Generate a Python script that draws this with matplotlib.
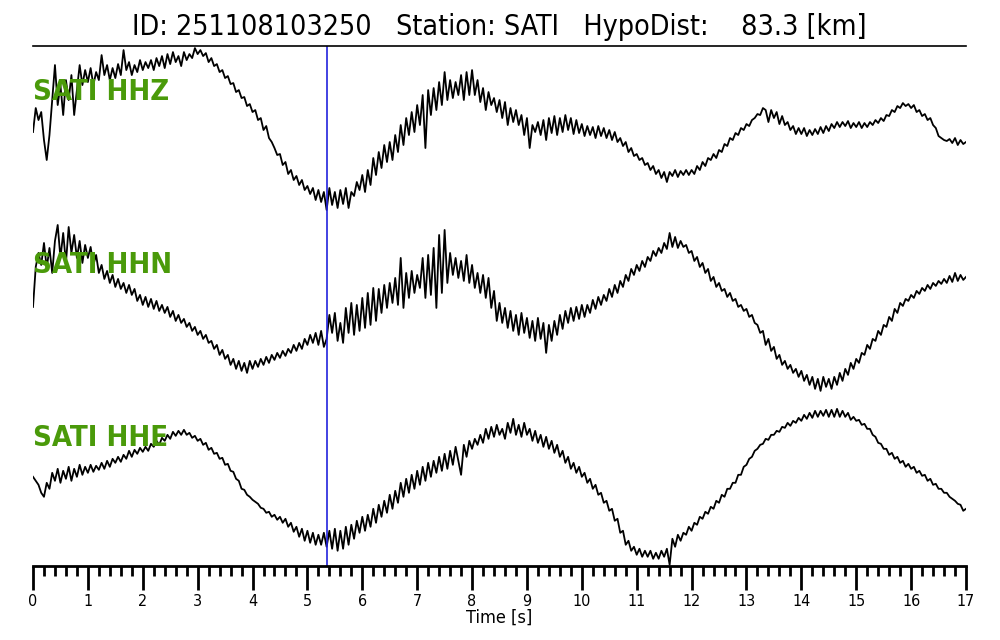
import numpy as np
import matplotlib
matplotlib.use("Agg")
import matplotlib.pyplot as plt

# ---------------- data ----------------
title_text = "ID: 251108103250   Station: SATI   HypoDist:    83.3 [km]"
channels = ["SATI HHZ", "SATI HHN", "SATI HHE"]
pick_time = 5.355          # s, blue marker
sample_step = 0.05         # s
t_end = 17.0
tick_labels = [str(i) for i in range(18)]

hhz = [
    -2, 22, 10, 18, -10, -30, -5, 30, 65, 25, 45, 15, 50, 30, 55, 15, 40, 65, 45, 60,
    48, 62, 45, 58, 50, 75, 55, 65, 50, 62, 52, 66, 55, 80, 60, 68, 55, 65, 58, 70,
    60, 68, 62, 70, 60, 72, 64, 74, 62, 76, 66, 78, 68, 74, 64, 78, 70, 76, 72, 82,
    76, 80, 74, 77, 68, 72, 64, 66, 58, 60, 52, 54, 46, 47, 38, 40, 32, 33, 24, 26,
    18, 20, 10, 12, 0, 4, -8, -12, -18, -25, -24, -35, -32, -44, -40, -50, -46, -55, -50, -60,
    -56, -64, -58, -70, -60, -72, -62, -80, -58, -75, -62, -78, -60, -74, -58, -78, -62, -66, -52, -60,
    -45, -62, -40, -55, -28, -45, -22, -38, -15, -32, -12, -30, -5, -22, 5, -15, 12, -5, 18, -2,
    25, 5, 35, -18, 40, 15, 42, 20, 48, 25, 58, 30, 50, 32, 48, 35, 55, 30, 58, 35,
    60, 35, 50, 28, 42, 20, 38, 25, 32, 18, 30, 12, 28, 5, 22, 8, 20, 5, 15, -5,
    12, -18, 5, -2, 8, -5, 10, -10, 12, -3, 14, -5, 12, -2, 15, 0, 12, -4, 10, -3,
    6, -6, 4, -5, 3, -8, 4, -6, 2, -8, 0, -10, -2, -12, -8, -16, -12, -22, -18, -26,
    -24, -30, -28, -35, -33, -40, -36, -44, -40, -48, -42, -52, -42, -46, -40, -47, -41, -45, -40, -45,
    -40, -44, -36, -40, -32, -36, -28, -30, -24, -28, -20, -22, -14, -16, -8, -10, -3, -5, 2, 0,
    6, 4, 10, 12, 16, 15, 22, 20, 8, 20, 12, 18, 6, 14, 5, 8, 0, 4, -4, 2,
    -4, 2, -6, 0, -5, 1, -4, 3, -3, 4, -1, 6, 2, 8, 3, 8, 4, 9, 2, 7,
    3, 8, 2, 7, 3, 8, 5, 10, 7, 12, 9, 15, 14, 20, 18, 24, 22, 27, 24, 26,
    22, 25, 18, 20, 14, 16, 10, 12, 5, 2, -6, -8, -10, -11, -9, -13, -8, -15, -10, -14,
    -12,
]

hhn = [
    -4, 36, 50, 38, 60, 35, 55, 30, 62, 78, 45, 70, 40, 76, 50, 68, 45, 62, 40, 58,
    45, 56, 38, 48, 30, 38, 24, 32, 20, 28, 16, 24, 14, 20, 10, 18, 8, 14, 2, 8,
    -2, 6, -4, 4, -6, 2, -8, -2, -10, -4, -14, -8, -18, -12, -20, -16, -24, -20, -28, -24,
    -32, -28, -36, -32, -40, -38, -46, -42, -52, -47, -56, -52, -62, -56, -66, -58, -68, -60, -70, -58,
    -66, -58, -64, -56, -62, -54, -60, -52, -57, -50, -55, -48, -53, -46, -50, -42, -48, -40, -46, -36,
    -42, -32, -40, -30, -42, -28, -44, -36, -12, -30, -10, -38, -20, -40, -5, -30, 0, -32, -2, -28,
    5, -25, 10, -22, 15, -18, 14, -10, 18, -5, 20, 0, 25, -2, 45, -5, 30, 5, 32, 10,
    28, 15, 45, 5, 48, 8, 55, -5, 68, 10, 73, 20, 50, 28, 45, 25, 42, 22, 48, 20,
    38, 15, 30, 10, 28, 5, 25, -5, 12, -18, 0, -20, -5, -25, -8, -28, -12, -32, -10, -30,
    -15, -35, -18, -38, -15, -36, -20, -50, -22, -38, -18, -32, -12, -26, -8, -20, -5, -18, -4, -16,
    -2, -14, -2, -10, 3, -6, 6, -2, 8, 2, 14, 6, 18, 10, 22, 16, 28, 22, 34, 28,
    38, 32, 42, 36, 46, 42, 52, 47, 55, 50, 60, 54, 70, 56, 66, 55, 62, 56, 58, 50,
    52, 42, 46, 36, 40, 30, 34, 22, 26, 16, 20, 12, 14, 6, 10, 2, 4, -4, -2, -8,
    -6, -14, -12, -20, -22, -30, -28, -42, -36, -48, -44, -56, -52, -62, -58, -66, -62, -70, -66, -74,
    -68, -78, -72, -82, -74, -86, -76, -88, -74, -84, -76, -86, -74, -82, -70, -78, -66, -72, -60, -66,
    -56, -60, -50, -52, -42, -46, -36, -38, -28, -32, -22, -24, -14, -18, -6, -10, 0, -3, 4, 2,
    8, 5, 12, 9, 15, 12, 18, 14, 20, 17, 22, 19, 24, 20, 27, 21, 30, 22, 28, 23,
    26,
]

hhe = [
    10, 6, 2, -6, -10, 4, -2, 14, 6, 18, 4, 16, 8, 20, 6, 18, 10, 22, 12, 20,
    14, 22, 15, 21, 17, 24, 18, 26, 20, 28, 24, 30, 25, 32, 28, 36, 30, 37, 33, 39,
    35, 40, 36, 43, 40, 46, 42, 49, 46, 52, 48, 55, 51, 56, 52, 57, 52, 54, 49, 51,
    46, 48, 42, 44, 37, 39, 33, 34, 28, 29, 22, 23, 16, 15, 8, 6, -2, -3, -8, -10,
    -13, -15, -17, -21, -22, -26, -25, -30, -28, -33, -30, -36, -32, -40, -36, -45, -40, -50, -42, -54,
    -44, -56, -46, -58, -48, -58, -46, -60, -44, -62, -42, -64, -44, -62, -40, -58, -38, -52, -34, -46,
    -30, -44, -28, -40, -22, -36, -18, -30, -14, -26, -8, -22, -4, -16, 4, -10, 8, -6, 12, -2,
    16, 2, 20, 6, 24, 10, 26, 14, 30, 16, 33, 18, 36, 22, 40, 26, 12, 42, 30, 46,
    38, 48, 42, 52, 44, 58, 48, 60, 50, 62, 52, 58, 48, 64, 54, 68, 52, 62, 50, 64,
    52, 58, 46, 56, 44, 52, 40, 50, 38, 46, 34, 42, 30, 36, 24, 30, 18, 24, 14, 20,
    10, 14, 4, 8, -2, 2, -8, -6, -16, -14, -24, -22, -34, -32, -46, -44, -58, -54, -64, -60,
    -68, -62, -70, -64, -70, -64, -72, -66, -72, -64, -70, -62, -78, -52, -60, -48, -54, -46, -48, -40,
    -44, -36, -38, -30, -32, -25, -27, -20, -22, -14, -16, -8, -10, -2, -2, 4, 4, 12, 12, 20,
    22, 28, 30, 36, 38, 42, 43, 48, 47, 52, 52, 56, 55, 60, 59, 64, 61, 66, 64, 69,
    66, 72, 68, 74, 69, 76, 70, 76, 71, 77, 70, 77, 70, 78, 70, 76, 70, 74, 67, 70,
    66, 67, 62, 63, 58, 58, 52, 50, 44, 43, 38, 38, 32, 34, 28, 30, 24, 26, 20, 23,
    18, 20, 14, 16, 11, 12, 6, 8, 2, 3, -2, -2, -6, -6, -10, -12, -14, -17, -18, -24,
    -22,
]

traces = [hhz, hhn, hhe]

# ---------------- layout / style ----------------
trace_offsets = [0, -173, -357]
label_y = [38, -135, -308]
label_color = "#4a9a0a"

fig = plt.figure(figsize=(10, 6.4), dpi=100)
ax = fig.add_axes([0.033, 0.116, 0.933, 0.812])

times = np.arange(len(hhz)) * sample_step
for vals, off in zip(traces, trace_offsets):
    ax.plot(times, np.asarray(vals, dtype=float) + off, color="black", lw=1.3)

ax.axvline(pick_time, color="#2222dd", lw=1.2)

for name, ly in zip(channels, label_y):
    ax.text(0.0, ly, name, color=label_color, fontsize=21, fontweight="bold",
            fontstretch="condensed", va="center", ha="left",
            family=["DejaVu Sans"])

ax.set_xlim(0, t_end)
ax.set_ylim(-436, 84)
ax.set_yticks([])
ax.spines["left"].set_visible(False)
ax.spines["right"].set_visible(False)
ax.spines["top"].set_linewidth(1.2)
ax.spines["bottom"].set_linewidth(2.0)

ax.set_xticks(np.arange(0, 18, 1))
ax.set_xticklabels(tick_labels)
ax.set_xticks(np.arange(0, 17.01, 0.2), minor=True)
ax.tick_params(axis="x", which="major", length=17, width=2, direction="out",
               labelsize=11.5, pad=3)
ax.tick_params(axis="x", which="minor", length=7.5, width=2, direction="out")
for lbl in ax.get_xticklabels():
    lbl.set_fontstretch("condensed")

ax.set_xlabel("Time [s]", fontsize=13, labelpad=0.5, fontstretch="condensed")
ax.set_title(title_text, fontsize=20.5, fontstretch="condensed", pad=8)

fig.savefig("out.png", dpi=100)
